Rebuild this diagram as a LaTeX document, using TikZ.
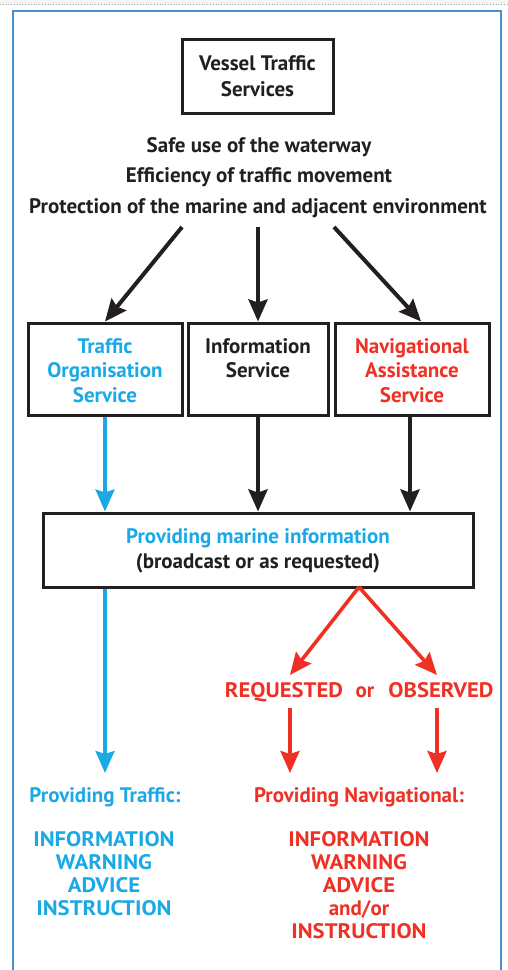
\documentclass[tikz,border=0pt]{standalone}
\usepackage{fontspec}
\setmainfont{PT Sans}
\newfontfamily\capsfont{PT Sans}[FakeStretch=1.08]
\usetikzlibrary{arrows.meta,calc}
\definecolor{vtsblue}{HTML}{1BA9E6}
\definecolor{vtsred}{HTML}{EE3124}
\definecolor{vtsink}{HTML}{231F20}
\definecolor{framecol}{HTML}{4A90D0}
\tikzset{
  box/.style={draw=vtsink, line width=3pt, inner sep=0pt},
  lbl/.style={align=center, inner sep=0pt, anchor=base, font=\fontsize{21}{24.5}\selectfont\bfseries},
  caps/.style={align=center, inner sep=0pt, anchor=base, font=\capsfont\fontsize{21}{24.5}\selectfont\bfseries},
  tip/.style={-{Stealth[length=22pt,width=19pt,inset=3pt]}},
  blk/.style={tip, draw=vtsink, line width=4pt},
  blu/.style={tip, draw=vtsblue, line width=3.2pt},
  rdd/.style={tip, draw=vtsred, line width=3.6pt},
}
\begin{document}
\begin{tikzpicture}[x=1pt,y=-1pt]
\useasboundingbox (0,0) rectangle (507,970);
% page header strip and frame
\fill[gray!8] (0,0) rectangle (507,5);
\draw[gray!70, dotted, line width=0.8pt] (0,4.5) -- (507,4.5);
\begin{scope}
\clip (0,0) rectangle (507,970);
\draw[framecol, line width=1.6pt] (13,11) rectangle (501,990);
\end{scope}

% top box and aims
\node[box, minimum width=151pt, minimum height=74pt] (vts) at (257.5,76) {};
\node[lbl, text=vtsink] at (257.5,70) {Vessel Traffic};
\node[lbl, text=vtsink] at (257.5,96) {Services};
\node[lbl, text=vtsink] (aim1) at (259,152) {Safe use of the waterway};
\node[lbl, text=vtsink] (aim2) at (259,182.5) {Efficiency of traffic movement};
\node[lbl, text=vtsink] (aim3) at (258,213) {Protection of the marine and adjacent environment};

% three services (multi-line labels are placed by their last baseline)
\node[box, minimum width=154pt, minimum height=92pt] (tos) at (105,369) {};
\node[lbl, text=vtsblue] at (105,402) {Traffic\\Organisation\\Service};
\node[box, minimum width=140pt, minimum height=92pt] (ins) at (258,369) {};
\node[lbl, text=vtsink] at (258,377.5) {Information\\Service};
\node[box, minimum width=154pt, minimum height=92pt] (nas) at (412,369) {};
\node[lbl, text=vtsred] at (412,402) {Navigational\\Assistance\\Service};

\coordinate (s1) at (182,227);
\coordinate (s2) at (258,227);
\coordinate (s3) at (334,227);
\draw[blk] (s1) -- (tos.north);
\draw[blk] (s2) -- (ins.north);
\draw[blk] (s3) -- ($(nas.north)+(9,0)$);

% marine information box
\node[box, minimum width=430pt, minimum height=74pt] (pmi) at (258,550) {};
\node[lbl, text=vtsblue] at (258,543) {Providing marine information};
\node[lbl, text=vtsink] at (258,568) {(broadcast or as requested)};

\draw[blu] (tos.south) -- (tos.south |- pmi.north);
\draw[blk] (ins.south) -- (ins.south |- pmi.north);
\draw[blk] ($(nas.south)+(-2,0)$) -- ($(nas.south |- pmi.north)+(-2,0)$);

% requested / observed
\node[caps, text=vtsred] (req) at (284,697) {REQUESTED};
\node[lbl, text=vtsred] (orw) at (365,697) {or};
\node[caps, text=vtsred] (obs) at (441,697) {OBSERVED};
\coordinate (split) at (359,587);
\coordinate (t1) at (290,675);
\coordinate (t2) at (437,675);
\draw[rdd] (split) -- (t1);
\draw[rdd] (split) -- (t2);

% outcomes
\node[lbl, text=vtsblue] (ptr) at (105,802) {Providing Traffic:};
\node[lbl, text=vtsred] (pnv) at (359,802) {Providing Navigational:};
\coordinate (bend) at (105,773);
\draw[blu] (tos.south |- pmi.south) -- (bend);
\coordinate (r1) at (290,708);
\coordinate (r2) at (437,708);
\draw[rdd] (r1) -- (r1 |- bend);
\draw[rdd] (r2) -- (r2 |- bend);

\node[caps, text=vtsblue, font=\capsfont\fontsize{21}{22.7}\selectfont\bfseries] (tlist) at (104,915) {INFORMATION\\WARNING\\ADVICE\\INSTRUCTION};
\node[caps, text=vtsred, font=\capsfont\fontsize{21}{23}\selectfont\bfseries] (nlist) at (359,938) {INFORMATION\\WARNING\\ADVICE\\{\fontspec{PT Sans}\bfseries and/or}\\INSTRUCTION};
\end{tikzpicture}
\end{document}
